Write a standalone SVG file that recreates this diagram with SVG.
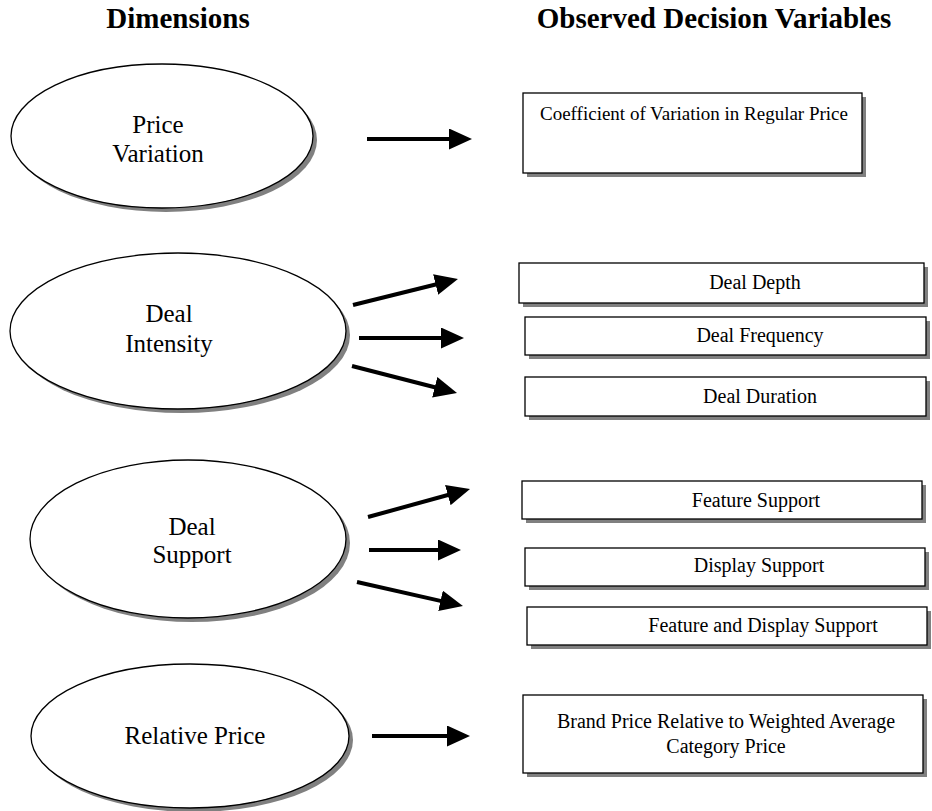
<svg xmlns="http://www.w3.org/2000/svg" width="932" height="811" viewBox="0 0 932 811">
<defs>
<style>
.hdr{font-family:"Liberation Serif","Times New Roman",serif;font-weight:bold;font-size:29px;fill:#000;text-anchor:middle}
.et{font-family:"Liberation Serif","Times New Roman",serif;font-size:25px;fill:#000;text-anchor:middle}
.bt{font-family:"Liberation Serif","Times New Roman",serif;font-size:20px;fill:#000;text-anchor:middle}
.sh{fill:#808080;stroke:none}
.shape{fill:#fff;stroke:#000;stroke-width:1.3}
.arr{stroke:#000;stroke-width:4;fill:none;marker-end:url(#ah)}
</style>
<marker id="ah" markerUnits="userSpaceOnUse" markerWidth="23" markerHeight="21" refX="1" refY="10.5" orient="auto" viewBox="0 0 23 21">
<path d="M0,0 L23,10.5 L0,21 z" fill="#000"/>
</marker>
</defs>
<rect width="932" height="811" fill="#fff"/>
<text class="hdr" x="178" y="28">Dimensions</text>
<text class="hdr" x="714" y="28">Observed Decision Variables</text>

<g id="price-variation">
<ellipse class="sh" cx="166" cy="140" rx="151" ry="72"/>
<ellipse class="shape" cx="162" cy="136" rx="151" ry="72"/>
<text class="et" x="158" y="133">Price</text>
<text class="et" x="158" y="162">Variation</text>
</g>
<g id="deal-intensity">
<ellipse class="sh" cx="182" cy="335" rx="168" ry="78"/>
<ellipse class="shape" cx="178" cy="331" rx="168" ry="78"/>
<text class="et" x="169" y="322">Deal</text>
<text class="et" x="169" y="352">Intensity</text>
</g>
<g id="deal-support">
<ellipse class="sh" cx="192" cy="543" rx="158" ry="79"/>
<ellipse class="shape" cx="188" cy="539" rx="158" ry="79"/>
<text class="et" x="192" y="535">Deal</text>
<text class="et" x="192" y="563">Support</text>
</g>
<g id="relative-price">
<ellipse class="sh" cx="194" cy="740" rx="159" ry="72"/>
<ellipse class="shape" cx="190" cy="736" rx="159" ry="72"/>
<text class="et" x="195" y="744">Relative Price</text>
</g>

<g id="coef-variation">
<rect class="sh" x="527" y="97" width="339" height="80"/>
<rect class="shape" x="523" y="93" width="339" height="80"/>
<text class="bt" x="694" y="120" style="font-size:19px">Coefficient of Variation in Regular Price</text>
</g>
<g id="deal-depth">
<rect class="sh" x="523" y="267" width="405" height="40"/>
<rect class="shape" x="519" y="263" width="405" height="40"/>
<text class="bt" x="755" y="289">Deal Depth</text>
</g>
<g id="deal-frequency">
<rect class="sh" x="529" y="321" width="401" height="38"/>
<rect class="shape" x="525" y="317" width="401" height="38"/>
<text class="bt" x="760" y="342">Deal Frequency</text>
</g>
<g id="deal-duration">
<rect class="sh" x="529" y="381" width="401" height="39"/>
<rect class="shape" x="525" y="377" width="401" height="39"/>
<text class="bt" x="760" y="403">Deal Duration</text>
</g>
<g id="feature-support">
<rect class="sh" x="526" y="485" width="400" height="38"/>
<rect class="shape" x="522" y="481" width="400" height="38"/>
<text class="bt" x="756" y="507">Feature Support</text>
</g>
<g id="display-support">
<rect class="sh" x="529" y="552" width="400" height="38"/>
<rect class="shape" x="525" y="548" width="400" height="38"/>
<text class="bt" x="759" y="572">Display Support</text>
</g>
<g id="feature-display-support">
<rect class="sh" x="531" y="611" width="400" height="38"/>
<rect class="shape" x="527" y="607" width="400" height="38"/>
<text class="bt" x="763" y="632">Feature and Display Support</text>
</g>
<g id="brand-relative-price">
<rect class="sh" x="527" y="699" width="400" height="78"/>
<rect class="shape" x="523" y="695" width="400" height="78"/>
<text class="bt" x="726" y="728">Brand Price Relative to Weighted Average</text>
<text class="bt" x="726" y="753">Category Price</text>
</g>

<g id="connectors">
<line class="arr" x1="367" y1="139" x2="450" y2="139"/>
<line class="arr" x1="353" y1="305" x2="436.6" y2="284.3"/>
<line class="arr" x1="359" y1="338" x2="442" y2="338"/>
<line class="arr" x1="352" y1="366" x2="435.7" y2="387.5"/>
<line class="arr" x1="368" y1="517" x2="448.8" y2="494.8"/>
<line class="arr" x1="369" y1="550" x2="439" y2="550"/>
<line class="arr" x1="357" y1="582" x2="441.5" y2="601.1"/>
<line class="arr" x1="372" y1="736" x2="448" y2="736"/>
</g>
</svg>
